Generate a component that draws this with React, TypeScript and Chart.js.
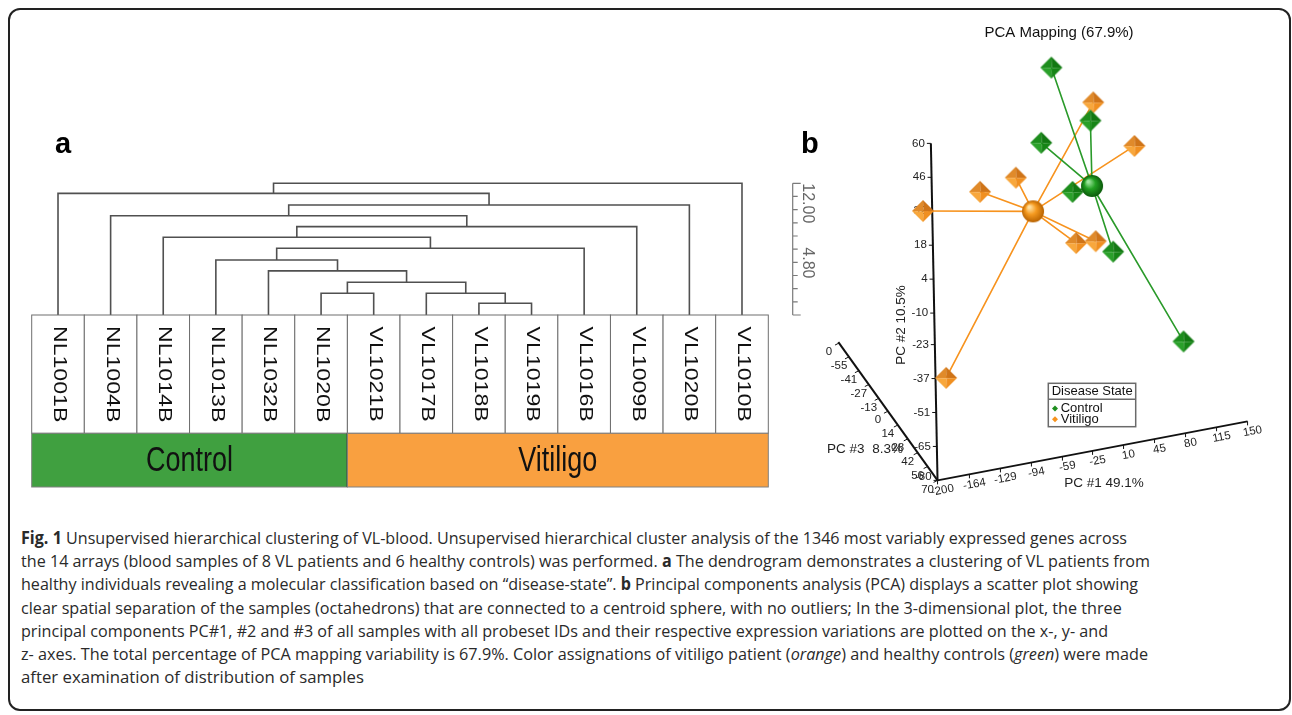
import React, { useEffect, useLayoutEffect, useRef } from "react";
import { Chart, registerables } from "chart.js";

Chart.register(...registerables);

// ---------------- Panel a: dendrogram data ----------------
const leafLabels = ["NL1001B", "NL1004B", "NL1014B", "NL1013B", "NL1032B", "NL1020B", "VL1021B", "VL1017B", "VL1018B", "VL1019B", "VL1016B", "VL1009B", "VL1020B", "VL1010B"];
const leafGroups = ["Control", "Control", "Control", "Control", "Control", "Control", "Vitiligo", "Vitiligo", "Vitiligo", "Vitiligo", "Vitiligo", "Vitiligo", "Vitiligo", "Vitiligo"];
// merges: node ids 0..13 are leaves, 14+k is the cluster made by merge k
const mergeLeft = [8, 7, 5, 16, 4, 3, 19, 2, 21, 1, 23, 0, 25];
const mergeRight = [9, 14, 6, 15, 17, 18, 10, 20, 11, 22, 12, 24, 13];
const mergeHeight = [5.44, 5.99, 5.99, 6.59, 7.21, 7.81, 8.45, 9.05, 9.63, 10.23, 10.81, 11.45, 12.0];
const distanceMin = 4.8;
const distanceMax = 12.0;
const scaleBarTicks = [4.8, 5.52, 6.24, 6.96, 7.68, 8.4, 9.12, 9.84, 10.56, 11.28, 12.0];
const scaleBarLabels = ["12.00", "4.80"];

// ---------------- Panel b: PCA data ----------------
const groupNames = ["Control", "Vitiligo"];
const controlPC1 = [6.9, 26.4, -13.9, -3.0, 33.6, 103.0];
const controlPC2 = [40.2, 29.2, 14.7, 5.9, -17.2, -55.0];
const controlPC3 = [-20, 10, -10, 20, 30, 40];
const vitiligoPC1 = [61.0, 94.7, -70.4, -118.7, -194.9, 11.5, 41.3, -168.7];
const vitiligoPC2 = [18.0, 3.8, 18.5, 20.1, 23.6, -22.3, -27.7, -49.1];
const vitiligoPC3 = [-30, -15, 25, 35, 50, 5, -5, 45];
const pc1Range = [-200, 150];
const pc2Range = [-79, 60];
const pc3Range = [70, -70];
const pc1Ticks = [-200, -164, -129, -94, -59, -25, 10, 45, 80, 115, 150];
const pc1TickLabels = ["-200", "-164", "-129", "-94", "-59", "-25", "10", "45", "80", "115", "150"];
const pc2Ticks = [-79, -65, -51, -37, -23, -10, 4, 18, 32, 46, 60];
const pc2TickLabels = ["-80", "-65", "-51", "-37", "-23", "-10", "4", "18", "32", "46", "60"];
const pc3Ticks = [70, 56, 42, 28, 14, 0, -13, -27, -41, -55, -69];
const pc3TickLabels = ["70", "56", "42", "28", "14", "0", "-13", "-27", "-41", "-55", "0"];
const pcaTitle = "PCA Mapping (67.9%)";
const pc1Title = "PC #1 49.1%";
const pc2Title = "PC #2 10.5%";
const pc3Title = "PC #3  8.3%";
const legendTitle = "Disease State";

// ---------------- styles / layout ----------------
const SANS = '"Liberation Sans", Arial, Helvetica, sans-serif';
const bandColors: Record<string, string> = { Control: "#40a040", Vitiligo: "#f9a040" };
const groupLineColors = ["#2a9a2a", "#f7931e"];
const groupMarkerColors = ["#1f8f1f", "#f7931e"];
const LEAF_BOX_H = 118.3;
const BAND_H = 53.7;
const DENDRO_W = 840;

// 3D projection of (PC1, PC2, PC3) onto the panel-b plane (chart units)
const proj = { ox: 132, oy: 492, u1: [326, -62], u2: [-7, -354], u3: [-104.3, -145.3] };
function project(a: number, b: number, c: number) {
  const t1 = (a - pc1Range[0]) / (pc1Range[1] - pc1Range[0]);
  const t2 = (b - pc2Range[0]) / (pc2Range[1] - pc2Range[0]);
  const t3 = (c - pc3Range[0]) / (pc3Range[1] - pc3Range[0]);
  return {
    x: proj.ox + t1 * proj.u1[0] + t2 * proj.u2[0] + t3 * proj.u3[0],
    y: proj.oy + t1 * proj.u1[1] + t2 * proj.u2[1] + t3 * proj.u3[1],
  };
}

const dendroPlugin = {
  id: "dendroExtras",
  afterDatasetsDraw(chart: any) {
    const { ctx, chartArea } = chart;
    const xs = chart.scales.x;
    const ys = chart.scales.y;
    const top = ys.getPixelForValue(distanceMin);
    const boxBottom = top + LEAF_BOX_H;
    ctx.save();
    // leaf boxes with rotated labels
    leafLabels.forEach((lab, i) => {
      const x0 = xs.getPixelForValue(i - 0.5);
      const x1 = xs.getPixelForValue(i + 0.5);
      ctx.fillStyle = "#fff";
      ctx.fillRect(x0, top, x1 - x0, LEAF_BOX_H);
      ctx.strokeStyle = "#6e6e6e";
      ctx.lineWidth = 1;
      ctx.strokeRect(x0, top, x1 - x0, LEAF_BOX_H);
      ctx.save();
      ctx.translate((x0 + x1) / 2 + 1, (top + boxBottom) / 2);
      ctx.rotate(Math.PI / 2);
      ctx.scale(1.25, 1);
      ctx.font = "18.5px " + SANS;
      ctx.fillStyle = "#111";
      ctx.textAlign = "center";
      ctx.textBaseline = "middle";
      ctx.fillText(lab, 0, 0);
      ctx.restore();
    });
    // group band
    let start = 0;
    for (let i = 1; i <= leafGroups.length; i++) {
      if (i === leafGroups.length || leafGroups[i] !== leafGroups[start]) {
        const g = leafGroups[start];
        const x0 = xs.getPixelForValue(start - 0.5);
        const x1 = xs.getPixelForValue(i - 0.5);
        ctx.fillStyle = bandColors[g];
        ctx.fillRect(x0, boxBottom, x1 - x0, BAND_H);
        ctx.strokeStyle = "#808080";
        ctx.lineWidth = 1;
        ctx.strokeRect(x0, boxBottom, x1 - x0, BAND_H);
        ctx.save();
        ctx.translate((x0 + x1) / 2, boxBottom + BAND_H / 2 + 1);
        ctx.scale(1, 1.28);
        ctx.font = "27px " + SANS;
        ctx.fillStyle = "#111";
        ctx.textAlign = "center";
        ctx.textBaseline = "middle";
        ctx.fillText(g, 0, 0);
        ctx.restore();
        if (i < leafGroups.length) {
          ctx.strokeStyle = "#222";
          ctx.lineWidth = 1.5;
          ctx.beginPath();
          ctx.moveTo(x1, boxBottom);
          ctx.lineTo(x1, boxBottom + BAND_H);
          ctx.stroke();
        }
        start = i;
      }
    }
    // scale bar
    const bx = chartArea.right + 24.4;
    const yTop = ys.getPixelForValue(distanceMax);
    const yBot = ys.getPixelForValue(distanceMin);
    ctx.strokeStyle = "#7a7a7a";
    ctx.lineWidth = 1.2;
    ctx.beginPath();
    ctx.moveTo(bx, yTop);
    ctx.lineTo(bx, yBot);
    scaleBarTicks.forEach((v) => {
      const y = ys.getPixelForValue(v);
      const len = v === distanceMin || v === distanceMax ? 8 : 5;
      ctx.moveTo(bx, y);
      ctx.lineTo(bx + len, y);
    });
    ctx.stroke();
    ctx.font = "16px " + SANS;
    ctx.fillStyle = "#666";
    ctx.textAlign = "left";
    ctx.textBaseline = "middle";
    [0, 64].forEach((off, i) => {
      ctx.save();
      ctx.translate(bx + 14.5, yTop + off);
      ctx.rotate(Math.PI / 2);
      ctx.fillText(scaleBarLabels[i], 0, 0);
      ctx.restore();
    });
    ctx.restore();
  },
};

function DendrogramChart() {
  const ref = useRef<HTMLCanvasElement | null>(null);
  useEffect(() => {
    if (!ref.current) return;
    const nodeX: number[] = leafLabels.map((_, i) => i);
    const nodeH: number[] = leafLabels.map(() => distanceMin);
    const datasets: any[] = [];
    mergeLeft.forEach((l, k) => {
      const r = mergeRight[k];
      const h = mergeHeight[k];
      datasets.push({
        data: [
          { x: nodeX[l], y: nodeH[l] },
          { x: nodeX[l], y: h },
          { x: nodeX[r], y: h },
          { x: nodeX[r], y: nodeH[r] },
        ],
        showLine: true,
        borderColor: "#505050",
        borderWidth: 1.6,
        pointRadius: 0,
        tension: 0,
        clip: false,
        borderJoinStyle: "miter",
      });
      nodeX.push((nodeX[l] + nodeX[r]) / 2);
      nodeH.push(h);
    });
    const chart = new Chart(ref.current, {
      type: "scatter",
      data: { datasets },
      options: {
        responsive: false,
        animation: false,
        events: [],
        layout: { padding: { left: 31.7, right: DENDRO_W - 768.3, top: 183.3, bottom: 185 } },
        scales: {
          x: { type: "linear", min: -0.5, max: leafLabels.length - 0.5, display: false },
          y: { type: "linear", min: distanceMin, max: distanceMax, display: false },
        },
        plugins: { legend: { display: false }, tooltip: { enabled: false } },
      },
      plugins: [dendroPlugin],
    } as any);
    return () => chart.destroy();
  }, []);
  return <canvas ref={ref} width={DENDRO_W} height={500} style={{ position: "absolute", left: 0, top: 0 }} />;
}

function makeOcta(cols: string[], r: number) {
  const s = Math.ceil(2 * r + 2);
  const c = document.createElement("canvas");
  c.width = s;
  c.height = s;
  const g = c.getContext("2d")!;
  const cx = s / 2;
  const cy = s / 2;
  const T = [cx, cy - r];
  const R = [cx + r, cy];
  const B = [cx, cy + r];
  const L = [cx - r, cy];
  const C = [cx + 0.5, cy + 0.5];
  const tri = (a: number[], b: number[], col: string) => {
    g.beginPath();
    g.moveTo(C[0], C[1]);
    g.lineTo(a[0], a[1]);
    g.lineTo(b[0], b[1]);
    g.closePath();
    g.fillStyle = col;
    g.fill();
  };
  tri(L, T, cols[0]);
  tri(T, R, cols[1]);
  tri(L, B, cols[2]);
  tri(B, R, cols[3]);
  return c;
}

function makeSphere(cols: string[], r: number) {
  const s = Math.ceil(2 * r + 2);
  const c = document.createElement("canvas");
  c.width = s;
  c.height = s;
  const g = c.getContext("2d")!;
  const cx = s / 2;
  const cy = s / 2;
  const grad = g.createRadialGradient(cx - r * 0.35, cy - r * 0.4, r * 0.1, cx, cy, r);
  grad.addColorStop(0, cols[0]);
  grad.addColorStop(0.45, cols[1]);
  grad.addColorStop(1, cols[2]);
  g.beginPath();
  g.arc(cx, cy, r, 0, Math.PI * 2);
  g.fillStyle = grad;
  g.fill();
  return c;
}

const pcaPlugin = {
  id: "pcaExtras",
  beforeDatasetsDraw(chart: any) {
    const { ctx } = chart;
    const xs = chart.scales.x;
    const ys = chart.scales.y;
    const toPx = (a: number, b: number, c: number) => {
      const p = project(a, b, c);
      return { x: xs.getPixelForValue(p.x), y: ys.getPixelForValue(p.y) };
    };
    const O = toPx(pc1Range[0], pc2Range[0], pc3Range[0]);
    const E1 = toPx(pc1Range[1], pc2Range[0], pc3Range[0]);
    const E2 = toPx(pc1Range[0], pc2Range[1], pc3Range[0]);
    const E3 = toPx(pc1Range[0], pc2Range[0], pc3Range[1]);
    ctx.save();
    ctx.strokeStyle = "#111";
    ctx.lineWidth = 2;
    [E1, E2, E3].forEach((E) => {
      ctx.beginPath();
      ctx.moveTo(O.x, O.y);
      ctx.lineTo(E.x, E.y);
      ctx.stroke();
    });
    ctx.lineWidth = 1;
    ctx.fillStyle = "#222";
    ctx.font = "11.5px " + SANS;
    // PC2 (vertical)
    ctx.textAlign = "right";
    ctx.textBaseline = "middle";
    pc2Ticks.forEach((v, i) => {
      const p = toPx(pc1Range[0], v, pc3Range[0]);
      ctx.beginPath();
      ctx.moveTo(p.x - 4, p.y);
      ctx.lineTo(p.x, p.y);
      ctx.stroke();
      ctx.fillText(pc2TickLabels[i], p.x - 6, i === 0 ? p.y - 4 : p.y);
    });
    // PC1
    const ang1 = Math.atan2(E1.y - O.y, E1.x - O.x);
    ctx.textAlign = "center";
    pc1Ticks.forEach((v, i) => {
      const p = toPx(v, pc2Range[0], pc3Range[0]);
      ctx.beginPath();
      ctx.moveTo(p.x, p.y);
      ctx.lineTo(p.x, p.y + 4);
      ctx.stroke();
      ctx.save();
      ctx.translate(p.x + 5, p.y + 10);
      ctx.rotate(ang1);
      ctx.fillText(pc1TickLabels[i], 0, 0);
      ctx.restore();
    });
    // PC3
    pc3Ticks.forEach((v, i) => {
      const p = toPx(pc1Range[0], pc2Range[0], v);
      ctx.beginPath();
      ctx.moveTo(p.x, p.y);
      ctx.lineTo(p.x - 4, p.y + 2);
      ctx.stroke();
      ctx.fillText(pc3TickLabels[i], p.x - 10, p.y + 9);
    });
    // axis titles
    ctx.font = "13.5px " + SANS;
    ctx.fillStyle = "#222";
    ctx.textAlign = "center";
    ctx.fillText(pc1Title, 304, 483);
    ctx.fillText(pc3Title, 65, 449);
    ctx.save();
    ctx.translate(101.7, 325);
    ctx.rotate(-Math.PI / 2);
    ctx.fillText(pc2Title, 0, 0);
    ctx.restore();
    ctx.restore();
  },
  afterDatasetsDraw(chart: any) {
    const { ctx } = chart;
    ctx.save();
    ctx.font = "15px " + SANS;
    ctx.fillStyle = "#111";
    ctx.textAlign = "center";
    ctx.textBaseline = "middle";
    ctx.fillText(pcaTitle, 259, 33);
    // legend
    const lx = 248.3, ly = 383.3, lw = 87.4, lh = 43.4;
    ctx.fillStyle = "#fff";
    ctx.fillRect(lx, ly, lw, lh);
    ctx.strokeStyle = "#6a6a6a";
    ctx.lineWidth = 1.5;
    ctx.strokeRect(lx, ly, lw, lh);
    ctx.beginPath();
    ctx.moveTo(lx, ly + 16);
    ctx.lineTo(lx + lw, ly + 16);
    ctx.stroke();
    ctx.font = "13px " + SANS;
    ctx.fillStyle = "#111";
    ctx.textAlign = "left";
    ctx.fillText(legendTitle, lx + 3.4, ly + 8.6);
    groupNames.forEach((g, i) => {
      const y = ly + 25.3 + i * 10.7;
      ctx.fillStyle = groupMarkerColors[i];
      ctx.beginPath();
      ctx.moveTo(lx + 6.7, y - 3);
      ctx.lineTo(lx + 9.7, y);
      ctx.lineTo(lx + 6.7, y + 3);
      ctx.lineTo(lx + 3.7, y);
      ctx.closePath();
      ctx.fill();
      ctx.fillStyle = "#111";
      ctx.fillText(g, lx + 12.4, y);
    });
    ctx.restore();
  },
};

function PcaChart() {
  const ref = useRef<HTMLCanvasElement | null>(null);
  useEffect(() => {
    if (!ref.current) return;
    const groups = [
      { pc1: controlPC1, pc2: controlPC2, pc3: controlPC3 },
      { pc1: vitiligoPC1, pc2: vitiligoPC2, pc3: vitiligoPC3 },
    ];
    const octaCols = [
      ["#1d8d1d", "#127812", "#2aa02a", "#168516"],
      ["#e08a2a", "#cf7418", "#f8a73c", "#f08f20"],
    ];
    const sphereCols = [
      ["#9be39b", "#22a022", "#0a5a0a"],
      ["#ffe0a0", "#f59a20", "#b86200"],
    ];
    const lineSets: any[] = [];
    const markerSets: any[] = [];
    const centroidSets: any[] = [];
    groups.forEach((g, gi) => {
      const mean = (arr: number[]) => arr.reduce((s, v) => s + v, 0) / arr.length;
      const c = project(mean(g.pc1), mean(g.pc2), mean(g.pc3));
      const pts = g.pc1.map((_, i) => project(g.pc1[i], g.pc2[i], g.pc3[i]));
      const zig: any[] = [];
      pts.forEach((p) => {
        zig.push({ x: c.x, y: c.y });
        zig.push({ x: p.x, y: p.y });
      });
      lineSets.push({
        label: groupNames[gi] + " links",
        data: zig,
        showLine: true,
        borderColor: groupLineColors[gi],
        borderWidth: 1.6,
        pointRadius: 0,
        tension: 0,
        order: 3,
      });
      markerSets.push({
        label: groupNames[gi],
        data: pts.map((p) => ({ x: p.x, y: p.y })),
        pointStyle: makeOcta(octaCols[gi], 11),
        pointRadius: 11,
        order: 2,
      });
      centroidSets.push({
        label: groupNames[gi] + " centroid",
        data: [{ x: c.x, y: c.y }],
        pointStyle: makeSphere(sphereCols[gi], 11),
        pointRadius: 11,
        order: 1,
      });
    });
    const chart = new Chart(ref.current, {
      type: "scatter",
      data: { datasets: [...lineSets, ...markerSets, ...centroidSets] },
      options: {
        responsive: false,
        animation: false,
        events: [],
        layout: { padding: 0 },
        scales: {
          x: { type: "linear", min: 0, max: 490, display: false },
          y: { type: "linear", min: 0, max: 500, reverse: true, display: false },
        },
        plugins: { legend: { display: false }, tooltip: { enabled: false } },
      },
      plugins: [pcaPlugin],
    } as any);
    return () => chart.destroy();
  }, []);
  return <canvas ref={ref} width={490} height={500} style={{ position: "absolute", left: 800, top: 0 }} />;
}

// ---------------- caption ----------------
const captionWidths = [1106, 1129, 1117, 1100.7, 1087, 1127, 343];

function Caption() {
  const refs = useRef<(HTMLSpanElement | null)[]>([]);
  useLayoutEffect(() => {
    const fit = () => {
      refs.current.forEach((el, i) => {
        if (!el) return;
        el.style.transform = "none";
        const w = el.getBoundingClientRect().width;
        if (w > 0) el.style.transform = `scaleX(${captionWidths[i] / w})`;
      });
    };
    fit();
    const fonts = (document as any).fonts;
    if (fonts && fonts.ready) fonts.ready.then(fit);
  }, []);
  const lines: React.ReactNode[] = [
    <>
      <b>Fig. 1</b> Unsupervised hierarchical clustering of VL-blood. Unsupervised hierarchical cluster analysis of the 1346 most variably expressed genes across
    </>,
    <>
      the 14 arrays (blood samples of 8 VL patients and 6 healthy controls) was performed. <b>a</b> The dendrogram demonstrates a clustering of VL patients from
    </>,
    <>
      healthy individuals revealing a molecular classification based on “disease-state”. <b>b</b> Principal components analysis (PCA) displays a scatter plot showing
    </>,
    <>clear spatial separation of the samples (octahedrons) that are connected to a centroid sphere, with no outliers; In the 3-dimensional plot, the three</>,
    <>principal components PC#1, #2 and #3 of all samples with all probeset IDs and their respective expression variations are plotted on the x-, y- and</>,
    <>
      z- axes. The total percentage of PCA mapping variability is 67.9%. Color assignations of vitiligo patient (<i>orange</i>) and healthy controls (<i>green</i>) were made
    </>,
    <>after examination of distribution of samples</>,
  ];
  return (
    <div
      style={{
        position: "absolute",
        left: 21,
        top: 526.1,
        fontFamily: '"Open Sans", "Noto Sans", sans-serif',
        fontSize: 17,
        lineHeight: "23.17px",
        color: "#2a2a2a",
      }}
    >
      {lines.map((ln, i) => (
        <div key={i} style={{ height: 23.17, whiteSpace: "nowrap" }}>
          <span
            ref={(el) => {
              refs.current[i] = el;
            }}
            style={{ display: "inline-block", transformOrigin: "0 0", whiteSpace: "nowrap" }}
          >
            {ln}
          </span>
        </div>
      ))}
    </div>
  );
}

const panelLabel = (left: number): React.CSSProperties => ({
  position: "absolute",
  left,
  top: 128.5,
  fontFamily: SANS,
  fontWeight: "bold",
  fontSize: 29,
  lineHeight: "29px",
  color: "#000",
});

export default function App() {
  return (
    <div style={{ position: "absolute", left: 0, top: 0, width: 1292, height: 715, background: "#fff", overflow: "hidden" }}>
      <DendrogramChart />
      <PcaChart />
      <div style={panelLabel(55)}>a</div>
      <div style={panelLabel(801)}>b</div>
      <Caption />
      <div
        style={{
          position: "absolute",
          left: 8,
          top: 8,
          width: 1283,
          height: 703,
          border: "2px solid #222",
          borderRadius: 12,
          boxSizing: "border-box",
          pointerEvents: "none",
        }}
      />
    </div>
  );
}
